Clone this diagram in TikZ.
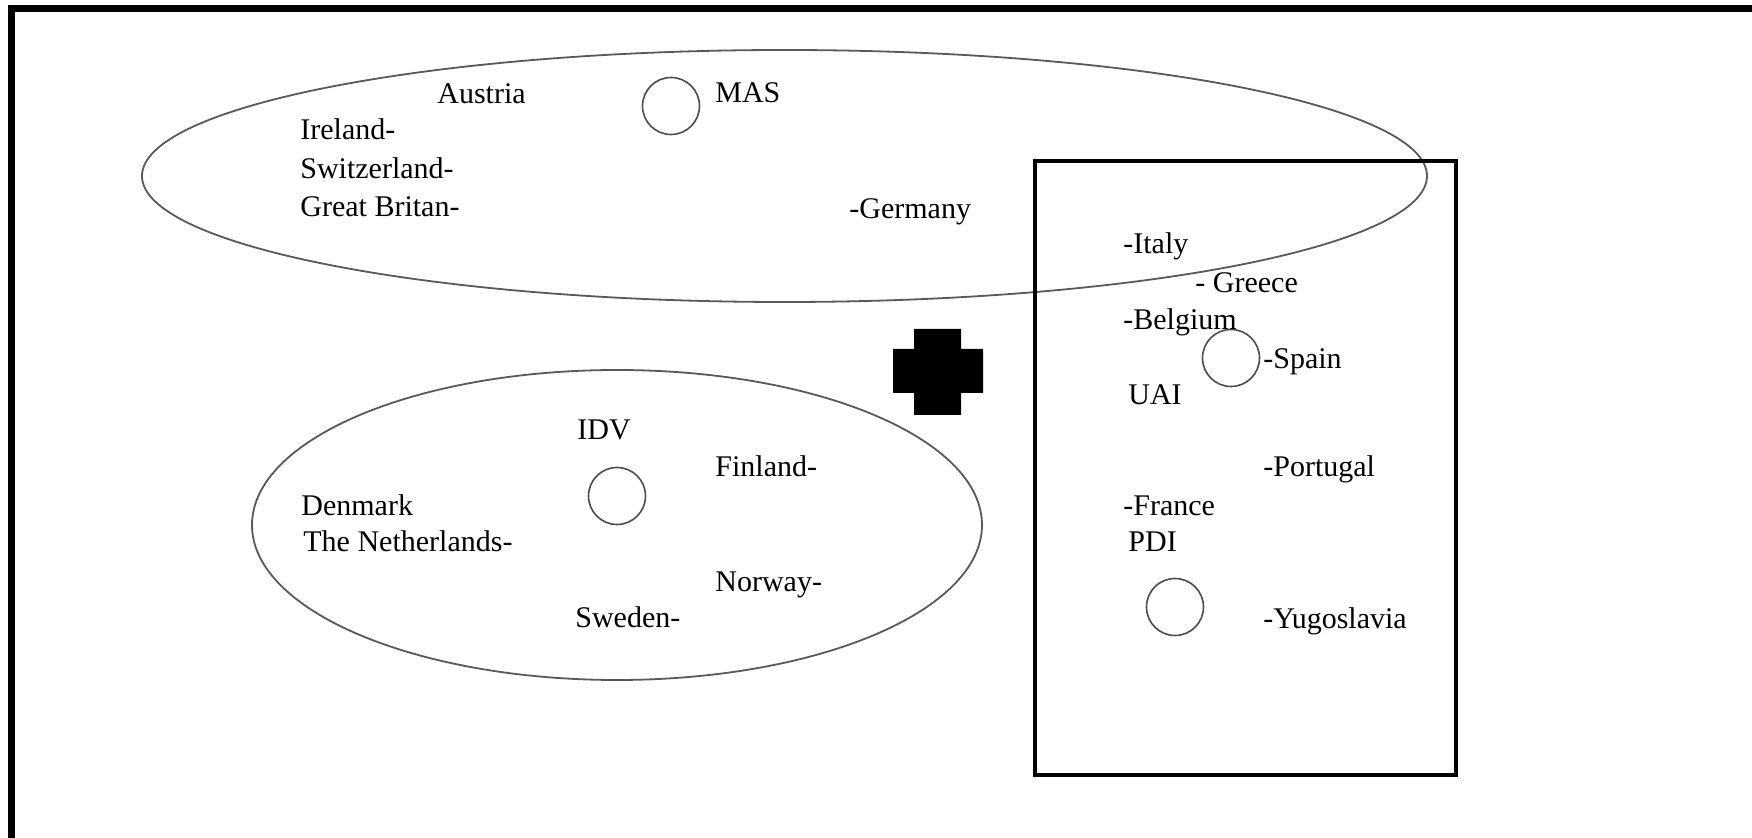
\documentclass[tikz,border=0pt]{standalone}
\usepackage{fontspec}
\setmainfont{Liberation Serif}
\begin{document}
\begin{tikzpicture}[x=0.5pt, y=-0.5pt,
    country/.style={anchor=base west, inner sep=0pt, font=\fontsize{15}{18}\selectfont},
    ring/.style={draw=black!70, line width=0.8pt, circle, inner sep=0pt, minimum size=28.5pt},
    group/.style={draw=black!65, line width=0.9pt}]
    \useasboundingbox[fill=white] (0, 0) rectangle (1752, 838);
    %\draw[lightgray] (0, 0) grid[step=100] (1752, 838);
    \draw[line width=3.5pt] (11.5, 838) -- (11.5, 8.5) -- (1752, 8.5);

    % MAS
    \draw[group] (784.5, 176) ellipse [x radius=642.5, y radius=126];
    \node[ring] (masring) at (671, 106) {};
    \node[country] (mas) at (715, 103) {MAS};
    \node[country] (austria) at (437, 104) {Austria};
    \node[country] (ireland) at (300, 140) {Ireland-};
    \node[country] (switzerland) at (300, 179) {Switzerland-};
    \node[country] (britain) at (300, 217) {Great Britan-};
    \node[country] (germany) at (849, 219) {-Germany};

    % IDV
    \draw[group] (617, 525) ellipse [x radius=365, y radius=155];
    \node[ring] (idvring) at (617, 496) {};
    \node[country] (idv) at (577, 440) {IDV};
    \node[country] (finland) at (715, 477) {Finland-};
    \node[country] (denmark) at (301, 516) {Denmark};
    \node[country] (netherlands) at (303, 552) {The Netherlands-};
    \node[country] (norway) at (715, 592) {Norway-};
    \node[country] (sweden) at (575, 628) {Sweden-};

    % UAI and PDI
    \draw[line width=2pt] (1035, 161.5) rectangle (1456, 775.5);
    \node[ring] (uairing) at (1231, 358) {};
    \node[ring] (pdiring) at (1175, 607) {};
    \node[country] (italy) at (1123, 254) {-Italy};
    \node[country] (greece) at (1195, 293) {- Greece};
    \node[country] (belgium) at (1123, 330) {-Belgium};
    \node[country] (spain) at (1263, 369) {-Spain};
    \node[country] (uai) at (1128, 405) {UAI};
    \node[country] (portugal) at (1263, 477) {-Portugal};
    \node[country] (france) at (1123, 516) {-France};
    \node[country] (pdi) at (1128, 552) {PDI};
    \node[country] (yugoslavia) at (1263, 629) {-Yugoslavia};

    \fill (914, 329) -- (961, 329) -- (961, 349) -- (983, 349) -- (983, 393) -- (961, 393)
        -- (961, 415) -- (914, 415) -- (914, 393) -- (893, 393) -- (893, 349) -- (914, 349) -- cycle;
\end{tikzpicture}
\end{document}
